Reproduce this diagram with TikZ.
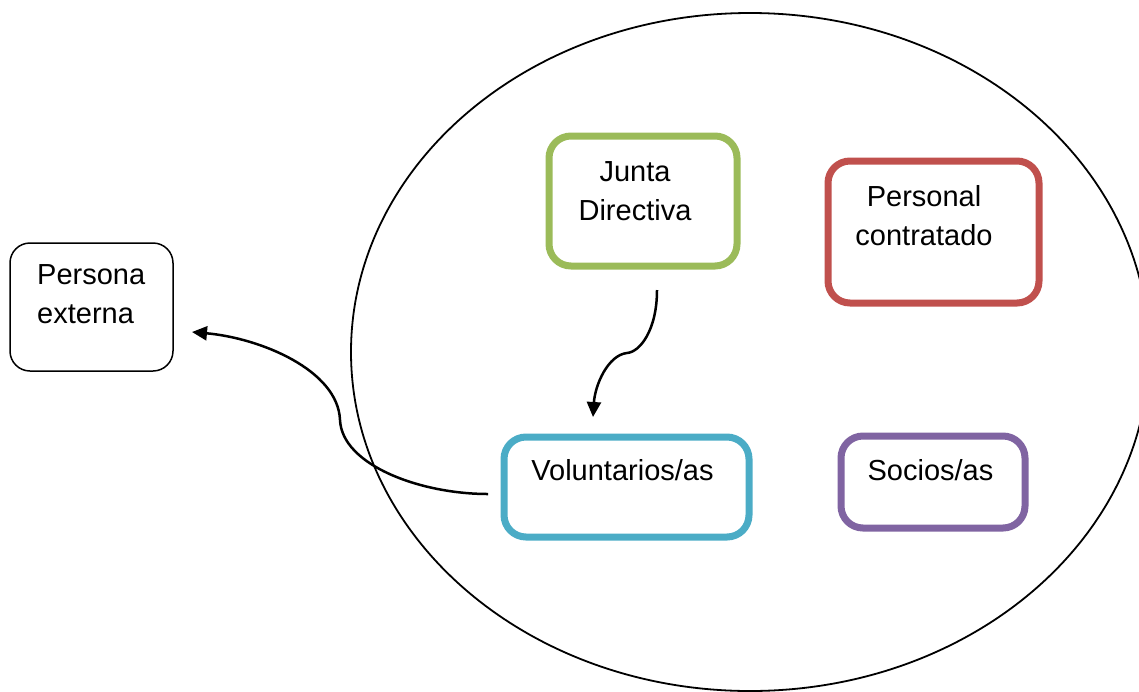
\documentclass[tikz,border=0pt]{standalone}
\usepackage{fontspec}
\setmainfont{Liberation Sans}
\usetikzlibrary{arrows.meta}

\definecolor{jdgreen}{HTML}{9BBB59}
\definecolor{pcred}{HTML}{C0504D}
\definecolor{volblue}{HTML}{4BACC6}
\definecolor{socpurple}{HTML}{8064A2}

\begin{document}
\begin{tikzpicture}[x=1pt,y=-1pt,
  box/.style={draw, rounded corners=22pt, line width=7pt, inner sep=0pt},
  plainbox/.style={draw, rounded corners=20pt, line width=1.5pt, inner sep=0pt},
  lbl/.style={inner sep=0pt, font=\fontsize{29}{39}\selectfont},
  flow/.style={line width=2.5pt, -{Triangle[length=15pt,width=14pt]}}
]
\useasboundingbox (0,0) rectangle (1139,691);

% the organisation
\begin{scope}
  \clip (0,0) rectangle (1139,691);
  \draw[line width=1.8pt] (750,352) ellipse [x radius=399, y radius=339];
\end{scope}

% boxes
\node[plainbox, minimum width=163pt, minimum height=128pt] (ext) at (91.5,307) {};
\node[box, draw=jdgreen, minimum width=188pt, minimum height=130pt] (jd) at (643,201) {};
\node[box, draw=pcred, minimum width=211pt, minimum height=142pt] (pc) at (933.5,232) {};
\node[box, draw=volblue, minimum width=245pt, minimum height=100pt] (vol) at (626.5,487) {};
\node[box, draw=socpurple, minimum width=184pt, minimum height=92pt] (soc) at (933,482) {};

% texts
\node[lbl, align=left, anchor=west] (extT) at (37,294) {Persona\\externa};
\node[lbl, align=center] (jdT) at (635,191) {Junta\\Directiva};
\node[lbl, align=center] (pcT) at (924,216) {Personal\\contratado};
\node[lbl, anchor=base] (volT) at (622.5,480) {Voluntarios/as};
\node[lbl, anchor=base] (socT) at (930.5,480) {Socios/as};

% connector ends
\coordinate (jdOut) at (657,290);
\coordinate (volIn) at (593,417);
\coordinate (volOut) at (488,494);
\coordinate (extIn) at (192,332);

% connectors
\draw[flow] (jdOut) .. controls (657,330) and (640,352) .. (627,353)
  .. controls (608,355) and (595,385) .. (volIn);
\draw[flow] (volOut) .. controls (420,494) and (342,465) .. (340,420)
  .. controls (338,370) and (260,338) .. (extIn);
\end{tikzpicture}
\end{document}
